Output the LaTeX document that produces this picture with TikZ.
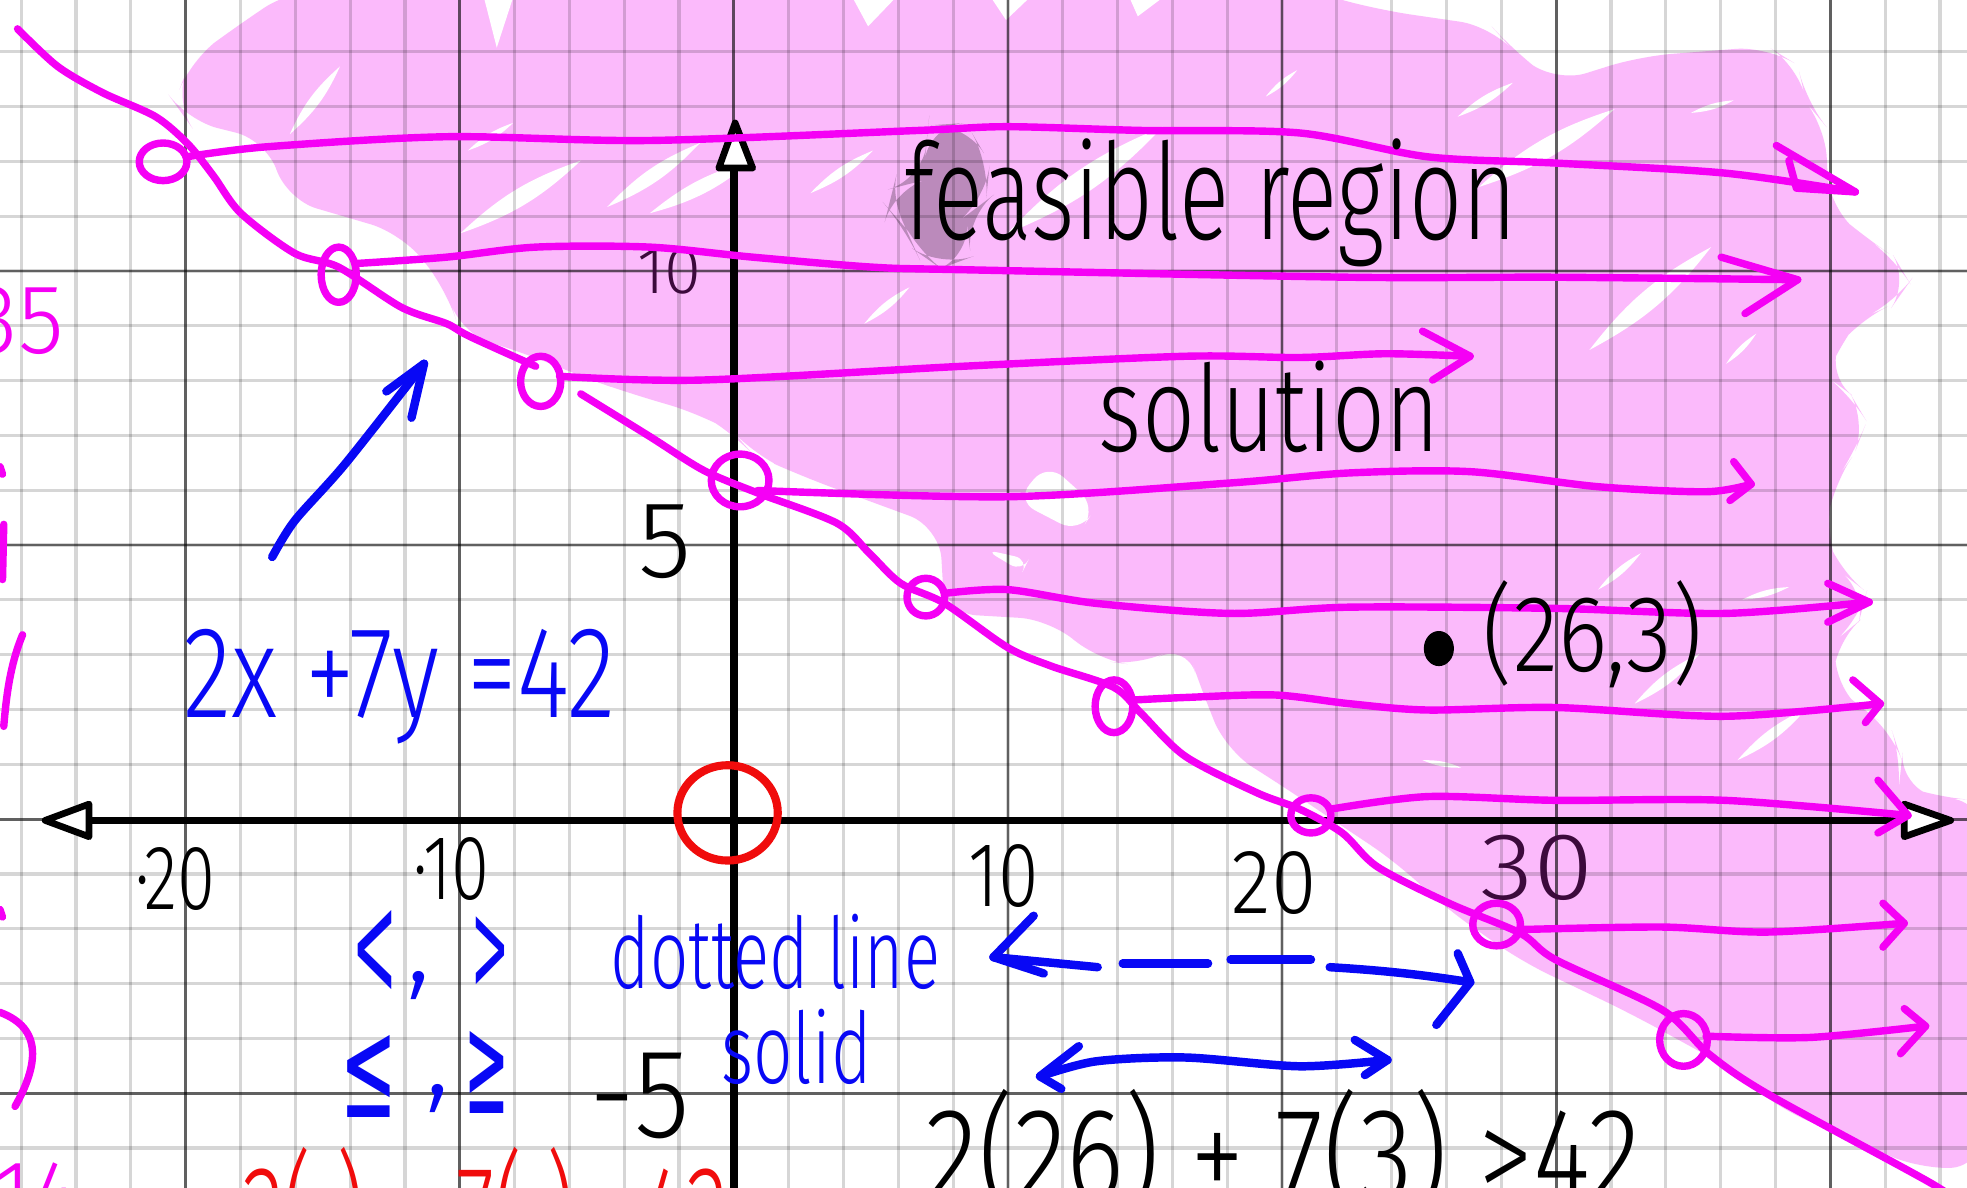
\documentclass[tikz,border=0pt]{standalone}
\usepackage{fontspec}
\usepackage{graphicx}
\setmainfont{Fira Sans}[UprightFont={* Light}]
\newfontfamily\symf{DejaVu Sans}
\usetikzlibrary{calc}
\definecolor{pinkfill}{RGB}{251,186,251}
\definecolor{mag}{RGB}{245,0,245}
\definecolor{hwblue}{RGB}{8,8,245}
\definecolor{hwred}{RGB}{240,12,12}
\definecolor{dpurple}{RGB}{60,10,60}
\definecolor{smudge}{RGB}{110,80,110}
\newcommand\hwtxt[3]{{\fontsize{#2}{#2}\selectfont\scalebox{#1}[1]{#3}}}
\newcommand\hwtall[4]{{\fontsize{#3}{#3}\selectfont\scalebox{#1}[#2]{#4}}}
\newcommand\hwsym[4]{{\fontsize{#3}{#3}\selectfont\symf\scalebox{#1}[#2]{#4}}}
\begin{document}
\begin{tikzpicture}[x=0.125mm,y=-0.125mm,
  mline/.style={draw=mag,line width=2.1pt,line cap=round,line join=round},
  bline/.style={draw=hwblue,line width=2.4pt,line cap=round,line join=round},
  rline/.style={draw=hwred,line width=2.3pt,line cap=round,line join=round},
  minorgrid/.style={draw=black,opacity=0.16,line width=0.9pt},
  majorgrid/.style={draw=black,opacity=0.55,line width=0.8pt},
  axisline/.style={draw=black,line width=2.2pt},
  axishead/.style={draw=black,fill=white,line width=1.9pt,line join=round},
  hw/.style={inner sep=0pt,outer sep=0pt,anchor=base west},
  hwc/.style={inner sep=0pt,outer sep=0pt,anchor=center},
  streak/.style={fill=white}]
\useasboundingbox (0,0) rectangle (1568,947);
\fill[white] (0,0) rectangle (1568,947);
\clip (0,0) rectangle (1568,947);

% ---- pink feasible region (highlighter) ----
\fill[pinkfill,rounded corners=9] (139,82) -- (152,48) -- (190,20) -- (232,-8) -- (1040,-8) -- (1100,8) -- (1189,21) -- (1206,40) -- (1240,66) -- (1307,45) -- (1409,37) -- (1433,52) -- (1440,82) -- (1455,100) -- (1458,165) -- (1485,188) -- (1510,205) -- (1522,225) -- (1510,242) -- (1482,255) -- (1466,275) -- (1456,300) -- (1475,314) -- (1488,336) -- (1478,362) -- (1462,385) -- (1455,425) -- (1466,455) -- (1488,472) -- (1482,495) -- (1464,510) -- (1461,545) -- (1478,560) -- (1508,582) -- (1516,606) -- (1514,625) -- (1545,636) -- (1580,638) -- (1580,930) -- (1530,932) -- (1470,905) -- (1420,885) -- (1380,852) -- (1300,808) -- (1212,766) -- (1150,722) -- (1114,688) -- (1060,652) -- (1020,625) -- (977,598) -- (953,537) -- (945,512) -- (910,531) -- (874,526) -- (838,494) -- (753,489) -- (749,420) -- (700,402) -- (640,380) -- (600,362) -- (585,345) -- (558,330) -- (500,313) -- (463,300) -- (420,282) -- (367,266) -- (356,231) -- (320,186) -- (228,159) -- (213,112) -- (149,96) -- cycle;

% white gaps and streaks inside the highlighter
\fill[white] (385,-5) -- (410,-5) -- (396,38) -- cycle;
\fill[white] (678,-5) -- (717,-5) -- (692,21) -- cycle;
\fill[white] (788,-5) -- (824,-5) -- (802,16) -- cycle;
\fill[white] (899,-5) -- (931,-5) -- (907,13) -- cycle;
\fill[white,rounded corners=6] (810,399) -- (835,369) -- (874,404) -- (860,425) -- cycle;
\fill[white,rounded corners=4] (785,438) -- (820,446) -- (815,456) -- cycle;
\foreach \ax/\ay/\bx/\by in {1162/93/1206/66, 1179/149/1287/87, 1267/279/1364/197, 1376/290/1400/266, 1348/90/1382/80, 1274/470/1308/441, 1389/478/1426/468, 1385/606/1440/565, 1303/561/1355/521, 646/154/696/120, 689/258/725/229, 518/170/600/128, 803/186/927/101, 1009/77/1034/56, 231/107/271/53, 373/120/409/98, 367/186/463/128, 484/165/558/114, 1134/606/1165/612}
  \fill[streak] (\ax,\ay) to[bend left=12] (\bx,\by) to[bend left=12] (\ax,\ay);

% smudge behind the f
\fill[smudge,opacity=0.45,rounded corners=10] (740,100) -- (770,98) -- (789,130) -- (786,160) -- (770,172) -- (774,205) -- (750,214) -- (730,200) -- (722,182) -- (708,166) -- (712,150) -- (735,144) -- (738,120) -- cycle;

% ---- grid ----
\foreach \i in {-13,...,22} \draw[minorgrid] ({585+43.7*\i},-5) -- ({585+43.7*\i},960);
\foreach \j in {-15,...,7} \draw[minorgrid] (-5,{653+43.7*\j}) -- (1580,{653+43.7*\j});
\foreach \i in {-10,-5,...,20} \draw[majorgrid] ({585+43.7*\i},-5) -- ({585+43.7*\i},960);
\foreach \j in {-15,-10,...,5} \draw[majorgrid] (-5,{653+43.7*\j}) -- (1580,{653+43.7*\j});

% ---- axes ----
\coordinate (xl) at (36,654);
\coordinate (xr) at (1555,654);
\coordinate (yt) at (586,98);
\coordinate (yb) at (585,960);
\draw[axisline] (71,654) -- (1518,654);
\draw[axisline] (585,136) -- (yb);
\draw[axishead] (xl) -- (71,641) -- (71,667) -- cycle;
\draw[axishead] (xr) -- (1518,641) -- (1518,667) -- cycle;
\draw[axishead] (yt) -- (573,134) -- (600,134) -- cycle;

% axis labels
\node[hw] (lm20) at (108,725) {\hwtxt{0.75}{26}{·20}};
\node[hw] (lm10) at (330,717) {\hwtxt{0.75}{26}{·10}};
\node[hw] (l10) at (772,723) {\hwtxt{0.8}{26}{10}};
\node[hw] (l20) at (982,728) {\hwtxt{0.9}{26}{20}};
\node[hw,text=dpurple] (l30) at (1180,717) {\hwtxt{1.15}{27}{30}};
\node[hw,text=dpurple] (ly10) at (508,234) {\hwtxt{1.0}{19}{10}};
\node[hw] (ly5) at (509,460) {\hwtxt{1.0}{31}{5}};
\node[hw] (lym5) at (470,907) {\hwtxt{0.9}{36}{-5}};

% red circle at origin
\coordinate (orig) at (580,648);
\draw[rline] (orig) ellipse [x radius=40, y radius=38];

% ---- boundary line 2x+7y=42 ----
\draw[mline] plot[smooth,tension=0.5] coordinates {(14,23) (46,53) (82,74) (124,93) (150,115) (170,140) (192,170) (235,202) (270,213) (320,245) (356,258) (374,268) (427,292)};
\draw[mline] plot[smooth,tension=0.5] coordinates {(463,314) (518,348) (561,375) (604,393) (667,417) (693,441) (718,465) (753,481) (803,516) (838,531) (888,548) (910,569) (945,603) (1002,632) (1036,645) (1070,664) (1098,691) (1155,720) (1212,744) (1240,765) (1325,805) (1362,840) (1409,872) (1539,943) (1565,962)};

% open circles on the line
\coordinate (c1) at (130,129);
\coordinate (c2) at (270,219);
\coordinate (c3) at (431,304);
\coordinate (c4) at (590,383);
\coordinate (c5) at (738,476);
\coordinate (c6) at (888,563);
\coordinate (c7) at (1045,650);
\coordinate (c8) at (1193,737);
\coordinate (c9) at (1342,829);
\draw[mline] (c1) ellipse [x radius=19, y radius=15];
\draw[mline] (c2) ellipse [x radius=14, y radius=22];
\draw[mline] (c3) ellipse [x radius=16, y radius=20];
\draw[mline] (c4) ellipse [x radius=23, y radius=21];
\draw[mline] (c5) ellipse [x radius=15, y radius=15];
\draw[mline] (c6) ellipse [x radius=15, y radius=21];
\draw[mline] (c7) ellipse [x radius=16, y radius=14];
\draw[mline] (c8) ellipse [x radius=19, y radius=17];
\draw[mline] (c9) ellipse [x radius=19, y radius=21];

% horizontal arrows from each circle
\coordinate (t1) at (1479,153);
\coordinate (t2) at (1433,223);
\coordinate (t3) at (1172,284);
\coordinate (t4) at (1396,386);
\coordinate (t5) at (1490,480);
\coordinate (t6) at (1499,561);
\coordinate (t7) at (1521,650);
\coordinate (t8) at (1518,736);
\coordinate (t9) at (1535,818);
\draw[mline] plot[smooth,tension=0.5] coordinates {(149,125) (213,117) (356,109) (518,112) (732,104) (803,101) (910,104) (1036,106) (1138,125) (1240,130) (1375,138) (t1)};
\draw[mline] (1416,116) -- (t1) -- (1432,150) -- (1426,128);
\draw[mline] plot[smooth,tension=0.5] coordinates {(285,210) (356,205) (427,197) (518,197) (600,205) (696,213) (767,215) (1076,221) (1240,221) (t2)};
\draw[mline] (1372,205) -- (t2) -- (1391,250);
\draw[mline] plot[smooth,tension=0.5] coordinates {(446,300) (558,303) (767,292) (945,284) (1036,285) (1104,282) (t3)};
\draw[mline] (1134,264) -- (t3) -- (1142,303);
\draw[mline] plot[smooth,tension=0.5] coordinates {(604,391) (803,396) (981,385) (1076,377) (1172,376) (1274,388) (1360,392) (t4)};
\draw[mline] (1382,368) -- (t4) -- (1379,399);
\draw[mline] plot[smooth,tension=0.5] coordinates {(753,473) (803,470) (874,481) (981,489) (1076,484) (1240,485) (1375,489) (t5)};
\draw[mline] (1457,465) -- (t5) -- (1457,496);
\draw[mline] plot[smooth,tension=0.5] coordinates {(904,558) (945,556) (1016,554) (1076,561) (1138,566) (1240,564) (1375,571) (t6)};
\draw[mline] (1477,542) -- (t6) -- (1487,576);
\draw[mline] plot[smooth,tension=0.5] coordinates {(1061,645) (1138,635) (1240,638) (1375,638) (t7)};
\draw[mline] (1497,622) -- (t7) -- (1497,664);
\draw[mline] plot[smooth,tension=0.5] coordinates {(1212,741) (1325,739) (1409,743) (t8)};
\draw[mline] (1501,720) -- (t8) -- (1501,755);
\draw[mline] plot[smooth,tension=0.5] coordinates {(1360,826) (1443,827) (t9)};
\draw[mline] (1518,804) -- (t9) -- (1515,840);

% magenta fragments at the left edge
\node[hw,text=mag] (m35) at (-22,282) {\hwtxt{0.95}{28}{35}};
\node[hw,text=mag] (m14) at (-4,980) {\hwtxt{0.9}{28}{14}};
\draw[mline] (3,418) -- (2,462);
\draw[mline] (18,506) .. controls (8,530) and (5,555) .. (3,579);
\draw[mline] (0,807) .. controls (35,820) and (30,850) .. (12,882);
\draw[mline] (0,372) -- (2,378);
\draw[mline] (0,725) -- (2,731);

% ---- black handwriting ----
\node[hw] (feas) at (721,191) {\hwtall{0.8}{1.15}{33}{feasible region}};
\node[hw] (sol) at (876,360) {\hwtall{0.85}{1.1}{31}{solution}};
\coordinate (pt) at (1147,517);
\fill[black] (pt) ellipse [x radius=12, y radius=14];
\node[hw] (ptl) at (1182,535) {\hwtall{0.95}{1.1}{28}{(26,3)}};
\node[hw] (check) at (738,958) {\hwtxt{0.82}{38}{2(26) + 7(3) >42}};

% ---- red handwriting at the bottom ----
\node[hw,text=hwred] (redeq) at (193,1004) {\hwtxt{0.65}{38}{2( ) + 7( ) >42}};

% ---- blue handwriting ----
\node[hw,text=hwblue] (eq) at (146,572) {\hwtxt{0.77}{37}{2x +7y =42}};
\coordinate (ba) at (217,444);
\coordinate (bt) at (338,290);
\draw[bline] plot[smooth,tension=0.5] coordinates {(ba) (235,415) (275,370) (bt)};
\draw[bline] (308,312) -- (bt) -- (328,333);

\node[hwc,text=hwblue] (lt) at (299,760) {\hwsym{0.38}{1.05}{40}{<}};
\node[hwc,text=hwblue] (cm1) at (334,786) {\hwtxt{1.0}{34}{,}};
\node[hwc,text=hwblue] (gt) at (391,760) {\hwsym{0.32}{0.9}{40}{>}};
\node[hwc,text=hwblue] (le) at (294,858) {\hwsym{0.48}{1.0}{40}{≤}};
\node[hwc,text=hwblue] (cm2) at (349,876) {\hwtxt{1.0}{34}{,}};
\node[hwc,text=hwblue] (ge) at (388,855) {\hwsym{0.38}{1.0}{40}{≥}};
\node[hw,text=hwblue] (dl) at (487,788) {\hwtxt{0.68}{28}{dotted line}};
\node[hw,text=hwblue] (sd) at (575,864) {\hwtxt{0.7}{28}{solid}};

% dashed double arrow
\coordinate (dl1) at (792,763);
\coordinate (dr1) at (1172,783);
\draw[bline] (824,730) -- (dl1) -- (832,776);
\draw[bline] (dl1) -- (875,771);
\draw[bline] (895,768) -- (963,768);
\draw[bline] (981,765) -- (1045,765);
\draw[bline] (1060,771) .. controls (1110,774) and (1140,778) .. (dr1);
\draw[bline] (1162,760) -- (dr1) -- (1145,817);

% solid double arrow
\coordinate (sl1) at (829,858);
\coordinate (sr1) at (1106,845);
\draw[bline] (860,834) -- (sl1) -- (846,868);
\draw[bline] plot[smooth,tension=0.5] coordinates {(sl1) (874,846) (945,843) (1036,850) (sr1)};
\draw[bline] (1080,829) -- (sr1) -- (1088,857);
\end{tikzpicture}
\end{document}
